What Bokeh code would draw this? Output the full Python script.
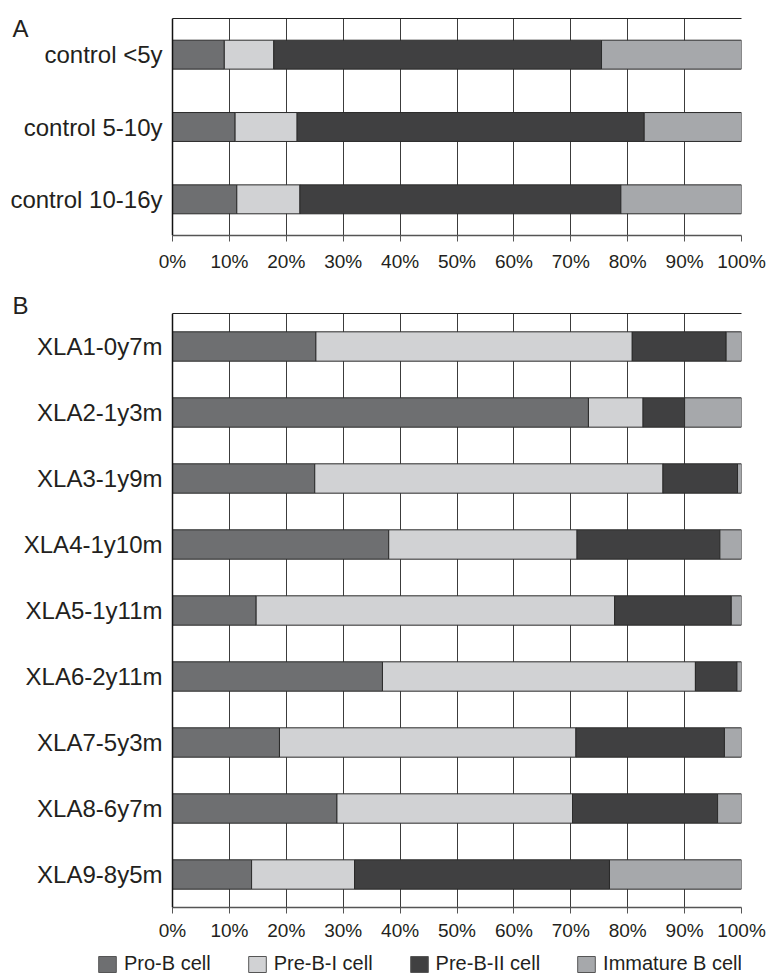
from bokeh.plotting import figure
from bokeh.layouts import column
from bokeh.models import (FactorRange, Range1d, FixedTicker, Label, Legend,
                          LegendItem, ColumnDataSource, LinearAxis, Title)
from bokeh.embed import file_html
from bokeh.resources import INLINE

# ---------------- data ----------------
stages = ["Pro-B cell", "Pre-B-I cell", "Pre-B-II cell", "Immature B cell"]
stage_keys = ["pro_b", "pre_b_i", "pre_b_ii", "immature"]
stage_colors = ["#6e6f71", "#d1d2d4", "#404041", "#a6a8ab"]

groups_a = ["control <5y", "control 5-10y", "control 10-16y"]
pro_b_a = [9.1, 11.0, 11.3]
pre_b_i_a = [8.7, 10.9, 11.1]
pre_b_ii_a = [57.6, 61.0, 56.4]
immature_a = [24.6, 17.1, 21.2]

groups_b = ["XLA1-0y7m", "XLA2-1y3m", "XLA3-1y9m", "XLA4-1y10m", "XLA5-1y11m",
            "XLA6-2y11m", "XLA7-5y3m", "XLA8-6y7m", "XLA9-8y5m"]
pro_b_b = [25.2, 73.1, 25.0, 38.0, 14.7, 36.9, 18.8, 28.9, 13.9]
pre_b_i_b = [55.6, 9.6, 61.2, 33.1, 63.0, 55.0, 52.1, 41.4, 18.1]
pre_b_ii_b = [16.5, 7.3, 13.1, 25.1, 20.5, 7.3, 26.1, 25.5, 44.8]
immature_b = [2.7, 10.0, 0.7, 3.8, 1.8, 0.8, 3.0, 4.2, 23.2]

tick_values = [0, 10, 20, 30, 40, 50, 60, 70, 80, 90, 100]
tick_labels = ["0%", "10%", "20%", "30%", "40%", "50%", "60%", "70%", "80%", "90%", "100%"]

FONT = "Liberation Sans"
TEXT = "#231f20"
W = 766
X_START = -30.23   # leaves room inside the frame for the category labels


def make_panel(groups, series, height, top, frame_h, bar_h, standoff):
    src = ColumnDataSource(dict(group=groups, **dict(zip(stage_keys, series))))
    p = figure(width=W, height=height,
               y_range=FactorRange(factors=groups[::-1]),
               x_range=Range1d(X_START, 100),
               output_backend="svg", toolbar_location=None,
               min_border_left=0, min_border_right=25,
               min_border_top=top, min_border_bottom=height - top - frame_h)
    p.hbar_stack(stage_keys, y="group", height=bar_h, color=stage_colors,
                 line_color="#2a2a2a", line_width=1, source=src)
    p.outline_line_color = None
    p.ygrid.grid_line_color = None
    p.xgrid.ticker = FixedTicker(ticks=tick_values)
    p.xgrid.grid_line_color = "#3c3c3c"
    p.xgrid.grid_line_width = 1

    xa = p.xaxis[0]
    xa.bounds = (0, 100)
    xa.ticker = FixedTicker(ticks=tick_values)
    xa.major_label_overrides = dict(zip(tick_values, tick_labels))
    xa.axis_line_color = "#555555"
    xa.axis_line_width = 1.5
    xa.major_tick_line_color = "#555555"
    xa.major_tick_out = 6
    xa.major_tick_in = 0
    xa.minor_tick_line_color = None
    xa.major_label_text_font = FONT
    xa.major_label_text_font_size = "19px"
    xa.major_label_text_color = TEXT
    xa.major_label_standoff = standoff

    # top edge of the plotting box
    top_ax = LinearAxis(bounds=(0, 100), ticker=FixedTicker(ticks=[]),
                        axis_line_color="#222222", axis_line_width=1,
                        major_tick_out=0, major_tick_in=0,
                        minor_tick_line_color=None, major_tick_line_color=None)
    p.add_layout(top_ax, "above")

    ya = p.yaxis[0]
    ya.fixed_location = 0
    ya.axis_line_color = "#111111"
    ya.axis_line_width = 1.5
    ya.major_tick_line_color = None
    ya.major_tick_out = 0
    ya.major_tick_in = 0
    ya.minor_tick_line_color = None
    ya.major_label_text_font = FONT
    ya.major_label_text_font_size = "24px"
    ya.major_label_text_color = TEXT
    ya.major_label_standoff = 10
    return p, src


pa, _ = make_panel(groups_a, [pro_b_a, pre_b_i_a, pre_b_ii_a, immature_a],
                   height=277, top=18, frame_h=217, bar_h=0.40, standoff=9)
pa.add_layout(Label(x=12, y=221, x_units="screen", y_units="screen",
                    text="A", text_font=FONT, text_font_size="24px",
                    text_color=TEXT, text_baseline="top", text_align="left"))

pb, src_b = make_panel(groups_b, [pro_b_b, pre_b_i_b, pre_b_ii_b, immature_b],
                       height=669, top=36, frame_h=594, bar_h=0.445, standoff=6)
pb.add_layout(Title(text="B", align="left", offset=12, vertical_align="bottom",
                    standoff=-10, text_font=FONT, text_font_size="24px",
                    text_font_style="normal", text_color=TEXT), "above")

# legend strip
pc = figure(width=W, height=29, x_range=Range1d(0, 100),
            y_range=FactorRange(factors=groups_b),
            output_backend="svg", toolbar_location=None, min_border=0,
            x_axis_type=None, y_axis_type=None, outline_line_color=None)
pc.grid.visible = False
rc = pc.hbar_stack(stage_keys, y="group", height=0.445, color=stage_colors,
                   line_color="#555555", line_width=1, source=src_b, visible=False)
items = [LegendItem(label=name, renderers=[r]) for name, r in zip(stages, rc)]
leg = Legend(items=items, orientation="horizontal", location=(96, 0),
             padding=0, margin=0, border_line_color=None, background_fill_alpha=0,
             glyph_width=22, glyph_height=20, label_standoff=6, spacing=35,
             label_text_font=FONT, label_text_font_size="20px", label_text_color=TEXT)
pc.add_layout(leg)

layout = column(pa, pb, pc, spacing=0)
open("out.html", "w").write(file_html(layout, INLINE))
